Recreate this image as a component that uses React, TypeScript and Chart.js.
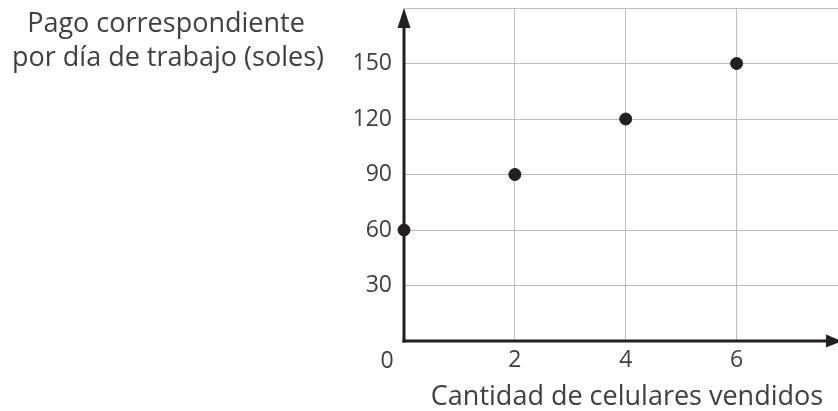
import React, { useEffect, useRef } from "react";
import { Chart, registerables } from "chart.js";

Chart.register(...registerables);

const xValues = [0, 2, 4, 6];
const yValues = [60, 90, 120, 150];
const xTickValues = [2, 4, 6];
const yTickValues = [30, 60, 90, 120, 150, 180];
const yTickLabelsShown = [30, 60, 90, 120, 150];
const originLabel = "0";
const xTitle = "Cantidad de celulares vendidos";
const yTitleLines = ["Pago correspondiente", "por día de trabajo (soles)"];

const FONT = "'Open Sans', sans-serif";
const TEXT = "#404040";
const AXIS = "#231f20";

const axesPlugin = {
  id: "axesArrows",
  beforeDatasetsDraw(chart: any) {
    const { ctx, chartArea, scales } = chart;
    const x0 = scales.x.getPixelForValue(0);
    const y0 = scales.y.getPixelForValue(0);
    ctx.save();
    ctx.strokeStyle = AXIS;
    ctx.fillStyle = AXIS;
    ctx.lineWidth = 3;
    // y axis
    ctx.beginPath();
    ctx.moveTo(x0, y0 + 1.5);
    ctx.lineTo(x0, chartArea.top + 14);
    ctx.stroke();
    ctx.beginPath();
    ctx.moveTo(x0, chartArea.top);
    ctx.lineTo(x0 - 6.5, chartArea.top + 20);
    ctx.lineTo(x0 + 6.5, chartArea.top + 20);
    ctx.closePath();
    ctx.fill();
    // x axis
    ctx.beginPath();
    ctx.moveTo(x0 - 1.5, y0);
    ctx.lineTo(chartArea.right - 10, y0);
    ctx.stroke();
    ctx.beginPath();
    ctx.moveTo(chartArea.right + 4, y0);
    ctx.lineTo(chartArea.right - 12, y0 - 6.5);
    ctx.lineTo(chartArea.right - 12, y0 + 6.5);
    ctx.closePath();
    ctx.fill();

    // texts
    ctx.fillStyle = TEXT;
    ctx.font = `23px ${FONT}`;
    ctx.textAlign = "center";
    ctx.textBaseline = "middle";
    ctx.fillText(originLabel, x0 - 17, y0 + 20);

    ctx.font = `27px ${FONT}`;
    ctx.textBaseline = "alphabetic";
    ctx.fillText(xTitle, 627, 405);
    ctx.fillText(yTitleLines[0], 166, 32);
    ctx.fillText(yTitleLines[1], 168, 66);
    ctx.restore();
  },
};

export default function App() {
  const ref = useRef<HTMLCanvasElement | null>(null);
  useEffect(() => {
    if (!ref.current) return;
    const chart = new Chart(ref.current, {
      type: "scatter",
      data: {
        datasets: [
          {
            data: xValues.map((x, i) => ({ x, y: yValues[i] })),
            backgroundColor: AXIS,
            borderColor: AXIS,
            pointRadius: 6,
            pointHoverRadius: 6,
            clip: false,
          } as any,
        ],
      },
      options: {
        responsive: false,
        animation: false,
        layout: { autoPadding: false, padding: { left: 0, right: 0, top: 8, bottom: 0 } },
        plugins: { legend: { display: false }, tooltip: { enabled: false } },
        scales: {
          x: {
            type: "linear",
            min: 0,
            max: 7.83,
            afterFit(scale: any) {
              scale.height = 70;
              scale.paddingLeft = 0;
              scale.paddingRight = 0;
            },
            afterBuildTicks(scale: any) {
              scale.ticks = [0, ...xTickValues].map((v) => ({ value: v }));
            },
            grid: { color: "#bdbdbd", lineWidth: 1, drawTicks: false },
            border: { display: false },
            ticks: {
              padding: 6,
              color: TEXT,
              font: { family: FONT, size: 23 },
              callback: (v: any) => (xTickValues.includes(Number(v)) ? String(v) : ""),
            },
          },
          y: {
            type: "linear",
            min: 0,
            max: 180,
            afterFit(scale: any) {
              scale.width = 404;
              scale.paddingTop = 0;
              scale.paddingBottom = 0;
            },
            afterBuildTicks(scale: any) {
              scale.ticks = [0, ...yTickValues].map((v) => ({ value: v }));
            },
            grid: { color: "#bdbdbd", lineWidth: 1, drawTicks: false },
            border: { display: false },
            ticks: {
              padding: 12,
              color: TEXT,
              font: { family: FONT, size: 23 },
              callback: (v: any) => (yTickLabelsShown.includes(Number(v)) ? String(v) : ""),
            },
          },
        },
      },
      plugins: [axesPlugin],
    });
    return () => chart.destroy();
  }, []);
  return (
    <div style={{ position: "fixed", left: 0, top: 0, width: 838, height: 411, background: "#fff" }}>
      <canvas ref={ref} width={838} height={411} style={{ width: 838, height: 411 }} />
    </div>
  );
}
